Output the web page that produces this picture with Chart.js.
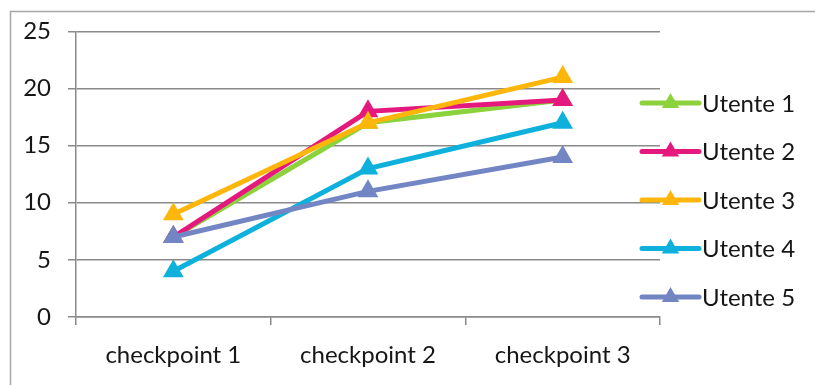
<!DOCTYPE html>
<html>
<head>
<meta charset="utf-8">
<script src="https://cdn.jsdelivr.net/npm/chart.js@4/dist/chart.umd.min.js"></script>
<style>
  html, body { margin: 0; padding: 0; background: #ffffff; }
  canvas { display: block; }
</style>
</head>
<body>
<canvas id="chart" width="815" height="385"></canvas>
<script>
// Categories and series values
const categories = ['checkpoint 1', 'checkpoint 2', 'checkpoint 3'];
const seriesNames = ['Utente 1', 'Utente 2', 'Utente 3', 'Utente 4', 'Utente 5'];
const utente1 = [7, 17, 19];
const utente2 = [7, 18, 19];
const utente3 = [9, 17, 21];
const utente4 = [4, 13, 17];
const utente5 = [7, 11, 14];
const yTicks = [0, 5, 10, 15, 20, 25];

const seriesValues = [utente1, utente2, utente3, utente4, utente5];
const seriesColors = ['#8CD23C', '#E5197D', '#FFB60A', '#0EB1DC', '#7386C4'];

const FONT = 'Lato, "Open Sans", sans-serif';
const FONT_SIZE = 24;
const TEXT = '#161616';
const GRID = '#8a8a8a';

// White background and the outer frame of the chart
const framePlugin = {
  id: 'frame',
  beforeDraw(chart) {
    const ctx = chart.ctx;
    ctx.save();
    ctx.fillStyle = '#ffffff';
    ctx.fillRect(0, 0, chart.width, chart.height);
    ctx.strokeStyle = '#a6a6a6';
    ctx.lineWidth = 1.5;
    ctx.strokeRect(10.5, 11.5, chart.width + 20, chart.height + 20);
    ctx.restore();
  }
};

// Legend on the right: line with a triangle marker, then the series name
const lineLegendPlugin = {
  id: 'lineLegend',
  afterDraw(chart) {
    const ctx = chart.ctx;
    const x0 = 642, x1 = 699, textX = 702, top = 103, step = 48.5;
    ctx.save();
    chart.data.datasets.forEach((ds, i) => {
      const y = top + i * step;
      ctx.strokeStyle = ds.borderColor;
      ctx.lineWidth = 5;
      ctx.lineCap = 'round';
      ctx.beginPath();
      ctx.moveTo(x0, y);
      ctx.lineTo(x1, y);
      ctx.stroke();
      const cx = (x0 + x1) / 2, r = 10;
      ctx.fillStyle = ds.backgroundColor;
      ctx.beginPath();
      ctx.moveTo(cx, y - r);
      ctx.lineTo(cx + r * 0.866, y + r / 2);
      ctx.lineTo(cx - r * 0.866, y + r / 2);
      ctx.closePath();
      ctx.fill();
      ctx.fillStyle = TEXT;
      ctx.font = FONT_SIZE + 'px ' + FONT;
      ctx.textBaseline = 'middle';
      ctx.textAlign = 'left';
      ctx.fillText(ds.label, textX, y + 1);
    });
    ctx.restore();
  }
};

const datasets = seriesNames.map((name, i) => ({
  label: name,
  data: seriesValues[i],
  borderColor: seriesColors[i],
  backgroundColor: seriesColors[i],
  pointBackgroundColor: seriesColors[i],
  pointBorderColor: seriesColors[i],
  borderWidth: 5,
  pointStyle: 'triangle',
  pointRadius: 12,
  pointHoverRadius: 12,
  pointBorderWidth: 0,
  tension: 0,
  fill: false,
  order: seriesNames.length - 1 - i
}));

new Chart(document.getElementById('chart'), {
  type: 'line',
  data: { labels: categories, datasets },
  plugins: [framePlugin, lineLegendPlugin],
  options: {
    responsive: false,
    animation: false,
    events: [],
    layout: { padding: { left: 10, right: 155, top: 29, bottom: 0 } },
    plugins: {
      legend: { display: false },
      tooltip: { enabled: false }
    },
    scales: {
      x: {
        offset: true,
        afterFit(scale) { scale.height = 68; },
        grid: {
          offset: true,
          drawOnChartArea: false,
          drawTicks: true,
          tickLength: 8,
          color: GRID,
          lineWidth: 1.5
        },
        border: { display: true, color: GRID, width: 1.5 },
        ticks: { color: TEXT, font: { family: FONT, size: FONT_SIZE }, padding: 16, maxRotation: 0 }
      },
      y: {
        min: 0,
        max: 25,
        afterFit(scale) { scale.width = 66; },
        afterBuildTicks(scale) { scale.ticks = yTicks.map(v => ({ value: v })); },
        grid: {
          color: GRID,
          lineWidth: 1.5,
          tickLength: 8
        },
        border: { display: true, color: GRID, width: 1.5 },
        ticks: { color: TEXT, font: { family: FONT, size: FONT_SIZE }, padding: 17 }
      }
    }
  }
});
</script>
</body>
</html>
